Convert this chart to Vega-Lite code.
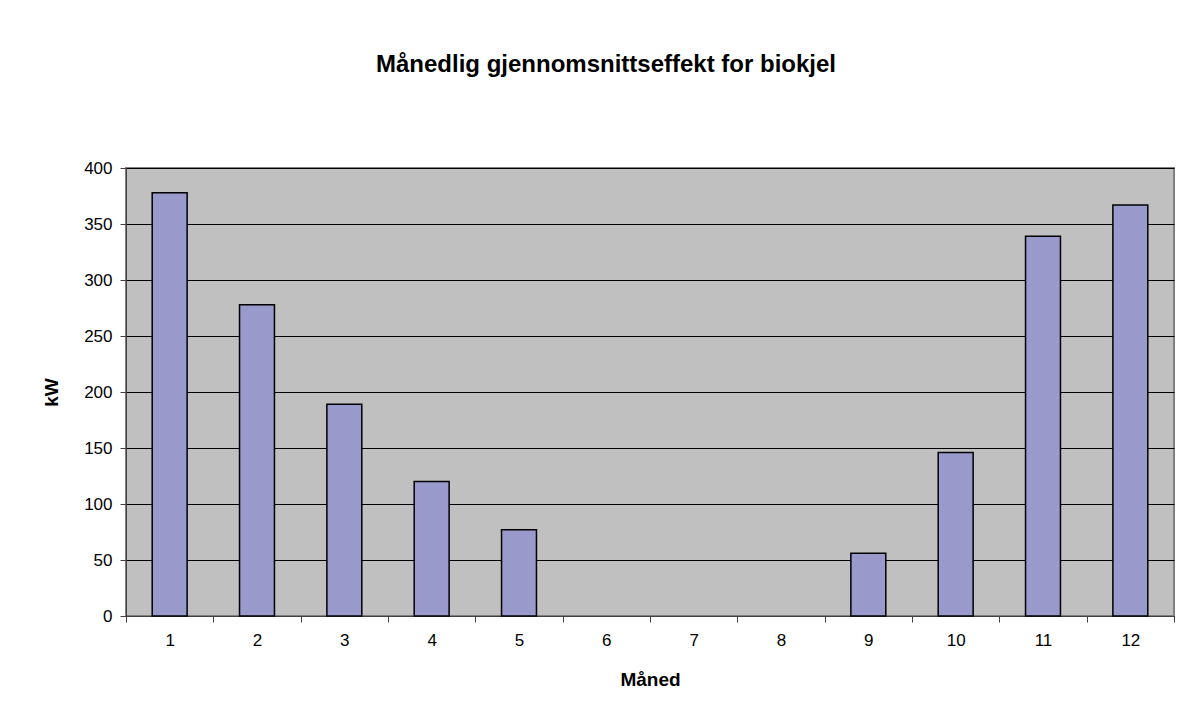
{
  "$schema": "https://vega.github.io/schema/vega-lite/v6.json",
  "autosize": {"type": "none"},
  "width": 1048,
  "height": 448,
  "padding": {"left": 126, "top": 168, "right": 22, "bottom": 110},
  "background": "white",
  "title": {
    "text": "Månedlig gjennomsnittseffekt for biokjel",
    "font": "Liberation Sans",
    "fontSize": 24,
    "fontWeight": "bold",
    "color": "black",
    "anchor": "middle",
    "frame": "group",
    "dx": -44,
    "offset": 82
  },
  "data": {
    "values": [
      {"month": 1, "kW": 378},
      {"month": 2, "kW": 278},
      {"month": 3, "kW": 189},
      {"month": 4, "kW": 120},
      {"month": 5, "kW": 77},
      {"month": 6, "kW": 0},
      {"month": 7, "kW": 0},
      {"month": 8, "kW": 0},
      {"month": 9, "kW": 56},
      {"month": 10, "kW": 146},
      {"month": 11, "kW": 339},
      {"month": 12, "kW": 367}
    ]
  },
  "transform": [{"filter": "datum.kW > 0"}],
  "mark": {"type": "bar", "fill": "#9999CC", "stroke": "black", "strokeWidth": 1.5, "strokeOpacity": 1, "width": {"band": 0.4}},
  "encoding": {
    "x": {
      "field": "month",
      "type": "ordinal",
      "title": "Måned",
      "scale": {"domain": [1, 2, 3, 4, 5, 6, 7, 8, 9, 10, 11, 12], "paddingInner": 0, "paddingOuter": 0},
      "axis": {
        "labelAngle": 0,
        "tickBand": "extent",
        "tickSize": 6,
        "tickColor": "#404040",
        "domainColor": "#404040",
        "labelPadding": 10,
        "titlePadding": 22
      }
    },
    "y": {
      "field": "kW",
      "type": "quantitative",
      "title": "kW",
      "scale": {"domain": [0, 400], "nice": false},
      "axis": {
        "values": [0, 50, 100, 150, 200, 250, 300, 350, 400],
        "grid": true,
        "gridColor": "black",
        "gridWidth": 1,
        "gridOpacity": 1,
        "tickSize": 6,
        "tickColor": "#404040",
        "domainColor": "#404040",
        "labelPadding": 8,
        "titlePadding": 22
      }
    }
  },
  "config": {
    "view": {"fill": "#C0C0C0", "stroke": "#808080", "strokeWidth": 2},
    "axis": {
      "labelFont": "Liberation Sans",
      "labelFontSize": 17,
      "labelColor": "black",
      "titleFont": "Liberation Sans",
      "titleFontSize": 19,
      "titleFontWeight": "bold",
      "titleColor": "black",
      "domainWidth": 1,
      "tickWidth": 1
    }
  }
}
